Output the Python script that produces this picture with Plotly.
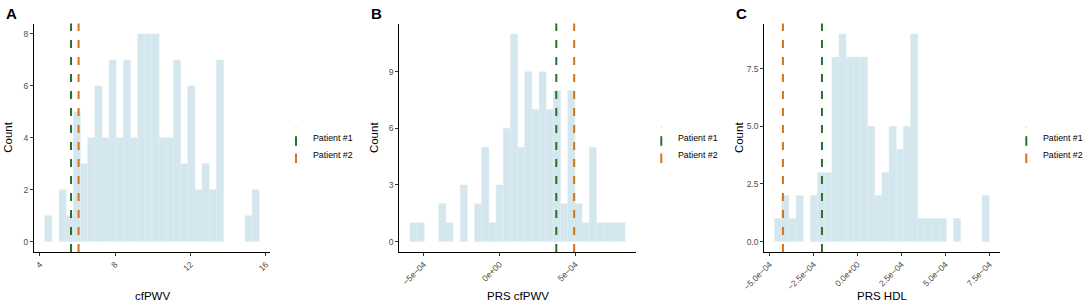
import plotly.graph_objects as go

W, H = 1084, 305

# ---------------- data ----------------
# Panel A: cfPWV histogram (30 bins)
a_counts = [1, 0, 2, 1, 5, 3, 4, 6, 4, 7, 4, 7, 4, 8, 8, 8, 4, 4, 7, 3, 6, 2, 3, 2, 7, 0, 0, 0, 1, 2]
a_bin_start = 4.264
a_bin_width = 0.3794
a_patients = [5.66, 6.06]
a_xticks = [4, 8, 12, 16]
a_xticktext = ["4", "8", "12", "16"]
a_yticks = [0, 2, 4, 6, 8]
a_yticktext = ["0", "2", "4", "6", "8"]

# Panel B: PRS cfPWV histogram
b_counts = [1, 1, 0, 0, 2, 1, 0, 3, 0, 2, 5, 1, 3, 6, 11, 5, 9, 7, 9, 7, 8, 2, 8, 2, 1, 5, 1, 1, 1, 1]
b_bin_start = -5.90e-4
b_bin_width = 4.73e-5
b_patients = [3.75e-4, 4.93e-4]
b_xticks = [-5e-4, 0, 5e-4]
b_xticktext = ["\u22125e\u221204", "0e+00", "5e\u221204"]
b_yticks = [0, 3, 6, 9]
b_yticktext = ["0", "3", "6", "9"]

# Panel C: PRS HDL histogram
c_counts = [1, 2, 1, 2, 0, 2, 3, 3, 8, 9, 8, 8, 8, 5, 2, 3, 5, 4, 5, 9, 1, 1, 1, 1, 0, 1, 0, 0, 0, 2]
c_bin_start = -4.716e-4
c_bin_width = 4.072e-5
c_patients = [-2.02e-4, -4.24e-4]
c_xticks = [-5e-4, -2.5e-4, 0, 2.5e-4, 5e-4, 7.5e-4]
c_xticktext = ["\u22125.0e\u221204", "\u22122.5e\u221204", "0.0e+00", "2.5e\u221204", "5.0e\u221204", "7.5e\u221204"]
c_yticks = [0, 2.5, 5, 7.5]
c_yticktext = ["0.0", "2.5", "5.0", "7.5"]

patient_names = ["Patient #1", "Patient #2"]
x_titles = ["cfPWV", "PRS cfPWV", "PRS HDL"]
panel_letters = ["A", "B", "C"]

# ---------------- style ----------------
FONT = "Liberation Sans, Arial, Helvetica, sans-serif"
BAR_FILL = "#d4e6ee"
BAR_EDGE = "#deecf2"
PAT_COLORS = ["#2b6e2f", "#d2741d"]
TICK_COLOR = "#4d4d4d"

# panel geometry in pixels (left, right) and shared top/bottom
panels_px = [(34, 270), (399.3, 636), (764.3, 1000)]
top_px, bot_px = 23.6, 252.0
x_ranges = [[3.695, 16.215], [-6.61e-4, 9.01e-4], [-5.30e-4, 8.11e-4]]
y_ranges = [[-0.4, 8.4], [-0.55, 11.55], [-0.45, 9.45]]

panels = [
    (a_counts, a_bin_start, a_bin_width, a_patients, a_xticks, a_xticktext, a_yticks, a_yticktext),
    (b_counts, b_bin_start, b_bin_width, b_patients, b_xticks, b_xticktext, b_yticks, b_yticktext),
    (c_counts, c_bin_start, c_bin_width, c_patients, c_xticks, c_xticktext, c_yticks, c_yticktext),
]

def px_x(x):
    return x / W

def px_y(y):
    return 1 - y / H

fig = go.Figure()
shapes = []
annotations = []
layout = {}

for i, (counts, start, width, pats, xt, xtt, yt, ytt) in enumerate(panels):
    n = "" if i == 0 else str(i + 1)
    xa, ya = "x" + n, "y" + n
    centers = [start + width * (k + 0.5) for k in range(len(counts))]
    xs = [c for c, v in zip(centers, counts) if v > 0]
    ys = [v for v in counts if v > 0]
    fig.add_trace(go.Bar(
        x=xs, y=ys, width=width, xaxis=xa, yaxis=ya,
        marker=dict(color=BAR_FILL, line=dict(color=BAR_EDGE, width=0.5)),
        showlegend=False, hoverinfo="skip",
    ))
    l, r = panels_px[i]
    layout["xaxis" + n] = dict(
        domain=[px_x(l), px_x(r)], anchor=ya, range=x_ranges[i], autorange=False,
        automargin=False,
        showgrid=False, zeroline=False, showline=True, linecolor="#000000", linewidth=1.2,
        ticks="outside", ticklen=3, tickwidth=1, tickcolor="#333333",
        tickvals=xt, ticktext=xtt, tickangle=-45,
        tickfont=dict(family=FONT, size=8.5, color=TICK_COLOR),
    )
    layout["yaxis" + n] = dict(
        domain=[px_y(bot_px), px_y(top_px)], anchor=xa, range=y_ranges[i], autorange=False,
        automargin=False,
        showgrid=False, zeroline=False, showline=True, linecolor="#000000", linewidth=1.2,
        ticks="outside", ticklen=3, tickwidth=1, tickcolor="#333333",
        tickvals=yt, ticktext=ytt,
        tickfont=dict(family=FONT, size=8.5, color=TICK_COLOR),
    )
    # patient vertical dashed lines
    for p, col in zip(pats, PAT_COLORS):
        shapes.append(dict(
            type="line", xref=xa, yref=ya + " domain", x0=p, x1=p, y0=0, y1=1,
            line=dict(color=col, width=2, dash="8px,9px"),
        ))
    # axis titles
    annotations.append(dict(
        text=x_titles[i], xref="paper", yref="paper", x=px_x((l + r) / 2), y=px_y(296),
        xanchor="center", yanchor="middle", showarrow=False,
        font=dict(family=FONT, size=11.5, color="#000000"),
    ))
    annotations.append(dict(
        text="Count", xref="paper", yref="paper", x=px_x(l - 26), y=px_y((top_px + bot_px) / 2),
        xanchor="center", yanchor="middle", textangle=-90, showarrow=False,
        font=dict(family=FONT, size=11.5, color="#000000"),
    ))
    # panel letter
    annotations.append(dict(
        text="<b>" + panel_letters[i] + "</b>", xref="paper", yref="paper",
        x=px_x(l - 30), y=px_y(13), xanchor="left", yanchor="middle", showarrow=False,
        font=dict(family=FONT, size=15, color="#000000"),
    ))
    # manual legend (vertical line keys like ggplot vline keys)
    kx = l + 262
    shapes.append(dict(type="line", xref="paper", yref="paper",
                       x0=px_x(kx), x1=px_x(kx), y0=px_y(126.8), y1=px_y(128.3),
                       line=dict(color="#c6ddc6", width=1)))
    for j, (nm, col) in enumerate(zip(patient_names, PAT_COLORS)):
        yc = 141 + 17.3 * j
        shapes.append(dict(type="line", xref="paper", yref="paper",
                           x0=px_x(kx), x1=px_x(kx), y0=px_y(yc - 4.8), y1=px_y(yc + 4.8),
                           line=dict(color=col, width=2)))
        annotations.append(dict(
            text=nm, xref="paper", yref="paper", x=px_x(kx + 14.5), y=px_y(yc - 3),
            xanchor="left", yanchor="middle", showarrow=False,
            font=dict(family=FONT, size=8.8, color="#000000"),
        ))

fig.update_layout(
    template="none",
    width=W, height=H, margin=dict(l=0, r=0, t=0, b=0, pad=0),
    paper_bgcolor="#ffffff", plot_bgcolor="#ffffff",
    shapes=shapes, annotations=annotations, showlegend=False,
    **layout,
)

fig.write_html(
    "out.html",
    config={"displayModeBar": False},
    post_script="document.body.style.margin='0';document.body.style.overflow='hidden';",
)
